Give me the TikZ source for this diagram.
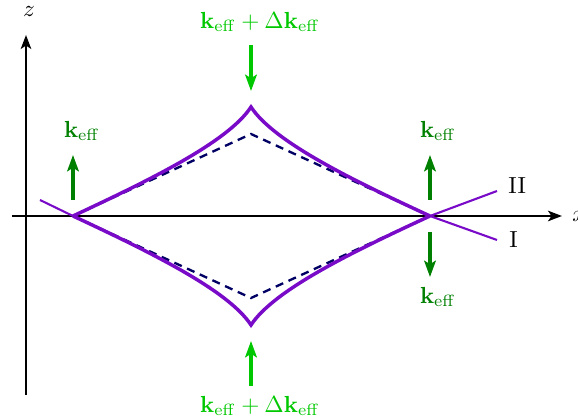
\documentclass[tikz,border=0pt]{standalone}
\usetikzlibrary{arrows.meta}
\definecolor{purp}{RGB}{120,10,200}
\definecolor{dkgreen}{RGB}{0,128,0}
\definecolor{ltgreen}{RGB}{0,200,0}
\definecolor{navy}{RGB}{0,0,100}
\begin{document}
\begin{tikzpicture}[x=0.43pt,y=-0.43pt,
  axis/.style={line width=1pt,-{Stealth[length=6pt,width=4.5pt,inset=1.5pt]}},
  curve/.style={purp,line width=1.5pt},
  thinline/.style={purp,line width=0.9pt},
  dashline/.style={navy,line width=1pt,dash pattern=on 3.5pt off 2.5pt},
  garrow/.style={line width=1.5pt,-{Stealth[length=7pt,width=5pt,inset=1.5pt]}},
  lbl/.style={inner sep=0pt}]
\useasboundingbox (0,0) rectangle (578,420);
% axes
\coordinate (zb) at (26,395);
\coordinate (zt) at (26,35);
\coordinate (xl) at (12,216);
\coordinate (xr) at (562,216);
\draw[axis] (zb) -- (zt);
\draw[axis] (xl) -- (xr);
\node[lbl] (zlab) at (29,11) {$z$};
\node[lbl,anchor=west] (xlab) at (572,216) {$x$};
% key points
\coordinate (L) at (73,216);
\coordinate (R) at (430,216);
\coordinate (T) at (251,107);
\coordinate (B) at (251,325);
\coordinate (DT) at (251,134);
\coordinate (DB) at (251,298);
\coordinate (Lext) at (40,200);
\coordinate (IIend) at (497,191);
\coordinate (Iend) at (497,240);
% dashed
\draw[dashline] (L) -- (DT) -- (R);
\draw[dashline] (L) -- (DB) -- (R);
% solid curves
\draw[curve] (L) .. controls (150,180) and (228,142) .. (T)
             .. controls (274,142) and (352,180) .. (R);
\draw[curve] (L) .. controls (150,252) and (228,290) .. (B)
             .. controls (274,290) and (352,252) .. (R);
% thin lines
\draw[thinline] (Lext) -- (L);
\draw[thinline] (R) -- (IIend);
\draw[thinline] (R) -- (Iend);
\node[lbl,anchor=west] (II) at (508,186) {II};
\node[lbl,anchor=west] (I) at (509,240) {I};
% green arrows
\coordinate (a1s) at (73,200); \coordinate (a1e) at (73,155);
\coordinate (a2s) at (430,200); \coordinate (a2e) at (430,155);
\coordinate (a3s) at (430,232); \coordinate (a3e) at (430,277);
\coordinate (a4s) at (251,45); \coordinate (a4e) at (251,91);
\coordinate (a5s) at (251,386); \coordinate (a5e) at (251,341);
\draw[garrow,dkgreen] (a1s) -- (a1e);
\draw[garrow,dkgreen] (a2s) -- (a2e);
\draw[garrow,dkgreen] (a3s) -- (a3e);
\draw[garrow,ltgreen] (a4s) -- (a4e);
\draw[garrow,ltgreen] (a5s) -- (a5e);
\node[dkgreen] (k1) at (82,131) {$\mathbf{k}_{\mathrm{eff}}$};
\node[dkgreen] (k2) at (438,131) {$\mathbf{k}_{\mathrm{eff}}$};
\node[dkgreen] (k3) at (438,297) {$\mathbf{k}_{\mathrm{eff}}$};
\node[ltgreen] (k4) at (260,22) {$\mathbf{k}_{\mathrm{eff}}+\Delta\mathbf{k}_{\mathrm{eff}}$};
\node[ltgreen] (k5) at (260,406) {$\mathbf{k}_{\mathrm{eff}}+\Delta\mathbf{k}_{\mathrm{eff}}$};
\end{tikzpicture}
\end{document}
